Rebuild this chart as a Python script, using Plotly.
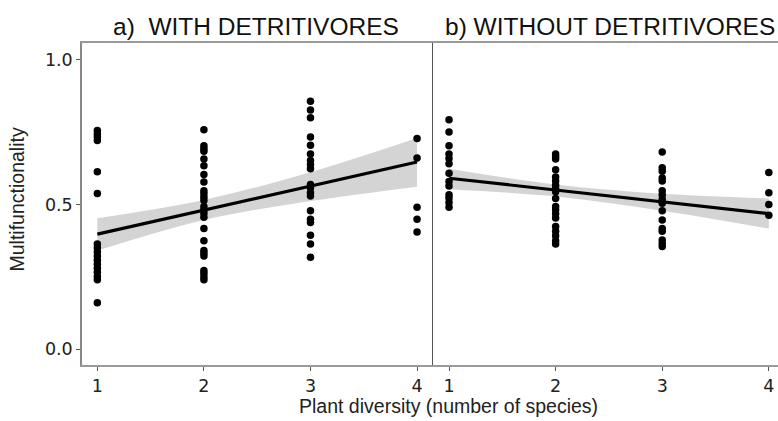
import plotly.graph_objects as go

# ---- data ----
titles = ["a)  WITH DETRITIVORES", "b) WITHOUT DETRITIVORES"]
x_label = "Plant diversity (number of species)"
y_label = "Multifunctionality"
y_ticks = [0.0, 0.5, 1.0]
y_tick_text = ["0.0", "0.5", "1.0"]
x_ticks = [1, 2, 3, 4]

# panel a) with detritivores
a_d1 = [0.756, 0.744, 0.733, 0.721, 0.613, 0.538, 0.364, 0.350, 0.336, 0.322,
        0.308, 0.294, 0.280, 0.266, 0.252, 0.240, 0.161]
a_d2 = [0.758, 0.703, 0.693, 0.684, 0.657, 0.634, 0.604, 0.578, 0.548, 0.537,
        0.525, 0.514, 0.493, 0.482, 0.470, 0.456, 0.417, 0.375, 0.341, 0.332,
        0.322, 0.272, 0.263, 0.251, 0.240]
a_d3 = [0.857, 0.827, 0.800, 0.733, 0.705, 0.675, 0.652, 0.638, 0.624, 0.569,
        0.558, 0.541, 0.530, 0.479, 0.449, 0.438, 0.394, 0.364, 0.318]
a_d4 = [0.728, 0.661, 0.491, 0.449, 0.405]
a_fit_x = [1, 2, 3, 4]
a_fit = [0.398, 0.481, 0.564, 0.647]
a_lo = [0.341, 0.447, 0.512, 0.562]
a_hi = [0.453, 0.516, 0.612, 0.730]

# panel b) without detritivores
b_d1 = [0.793, 0.751, 0.703, 0.675, 0.659, 0.641, 0.608, 0.580, 0.564, 0.534,
        0.523, 0.507, 0.491]
b_d2 = [0.675, 0.666, 0.657, 0.620, 0.595, 0.581, 0.567, 0.555, 0.544, 0.521,
        0.493, 0.482, 0.468, 0.454, 0.424, 0.408, 0.392, 0.375, 0.364]
b_d3 = [0.682, 0.627, 0.615, 0.592, 0.581, 0.548, 0.534, 0.518, 0.505, 0.479,
        0.447, 0.417, 0.408, 0.378, 0.366, 0.355]
b_d4 = [0.611, 0.541, 0.500, 0.463]
b_fit_x = [1, 2, 3, 4]
b_fit = [0.591, 0.550, 0.510, 0.469]
b_lo = [0.553, 0.528, 0.479, 0.417]
b_hi = [0.624, 0.569, 0.537, 0.521]

fig = go.Figure()


def add_panel(groups, fx, fit, lo, hi, xa, ya):
    fig.add_trace(go.Scatter(x=fx, y=lo, mode="lines", line=dict(width=0, shape="spline"),
                             hoverinfo="skip", showlegend=False, xaxis=xa, yaxis=ya))
    fig.add_trace(go.Scatter(x=fx, y=hi, mode="lines", line=dict(width=0, shape="spline"),
                             fill="tonexty", fillcolor="rgba(160,160,160,0.45)",
                             hoverinfo="skip", showlegend=False, xaxis=xa, yaxis=ya))
    xs, ys = [], []
    for i, g in enumerate(groups):
        xs += [i + 1] * len(g)
        ys += g
    fig.add_trace(go.Scatter(x=xs, y=ys, mode="markers",
                             marker=dict(color="black", size=7.5),
                             showlegend=False, xaxis=xa, yaxis=ya))
    fig.add_trace(go.Scatter(x=fx, y=fit, mode="lines", line=dict(color="black", width=3.2),
                             showlegend=False, xaxis=xa, yaxis=ya))


add_panel([a_d1, a_d2, a_d3, a_d4], a_fit_x, a_fit, a_lo, a_hi, "x", "y")
add_panel([b_d1, b_d2, b_d3, b_d4], b_fit_x, b_fit, b_lo, b_hi, "x2", "y2")

split = 350.5 / 696
tickfont = dict(family="DejaVu Sans", size=17.5, color="#222222")
axcommon = dict(tickmode="array", tickvals=x_ticks, ticktext=[str(v) for v in x_ticks],
                ticks="outside", ticklen=4, tickcolor="#555555", tickwidth=1,
                showline=True, linecolor="#999999", linewidth=1.5, mirror=True,
                showgrid=False, zeroline=False, tickfont=tickfont)

fig.update_layout(
    width=778, height=421,
    margin=dict(l=82, r=0, t=43, b=56),
    plot_bgcolor="white", paper_bgcolor="white",
    xaxis=dict(domain=[0, split], range=[0.856, 4.145], **axcommon),
    xaxis2=dict(domain=[split, 1], range=[0.845, 4.086], **axcommon),
    yaxis=dict(range=[-0.054, 1.058], tickmode="array", tickvals=y_ticks, ticktext=y_tick_text,
               ticks="outside", ticklen=4, tickcolor="#555555", showline=True,
               linecolor="#888888", linewidth=1.5, mirror=False, showgrid=False,
               zeroline=False, tickfont=tickfont),
    yaxis2=dict(range=[-0.054, 1.058], anchor="x2", showticklabels=False, ticks="",
                showline=True, linecolor="#555555", linewidth=1, showgrid=False,
                zeroline=False),
    annotations=[
        dict(text=titles[0], x=0.25, y=1.051, xref="paper", yref="paper",
             showarrow=False, xanchor="center", yanchor="middle",
             font=dict(family="Liberation Sans", size=24.5, color="#111111")),
        dict(text=titles[1], x=0.758, y=1.051, xref="paper", yref="paper",
             showarrow=False, xanchor="center", yanchor="middle",
             font=dict(family="Liberation Sans", size=24.5, color="#111111")),
        dict(text=x_label, x=0.527, y=-0.127, xref="paper", yref="paper",
             showarrow=False, xanchor="center", yanchor="middle",
             font=dict(family="Liberation Sans", size=19.5, color="#222222")),
        dict(text=y_label, x=-0.0934, y=0.514, xref="paper", yref="paper",
             showarrow=False, xanchor="center", yanchor="middle", textangle=-90,
             font=dict(family="Liberation Sans", size=19.5, color="#222222")),
    ],
)

fig.write_html("out.html")
